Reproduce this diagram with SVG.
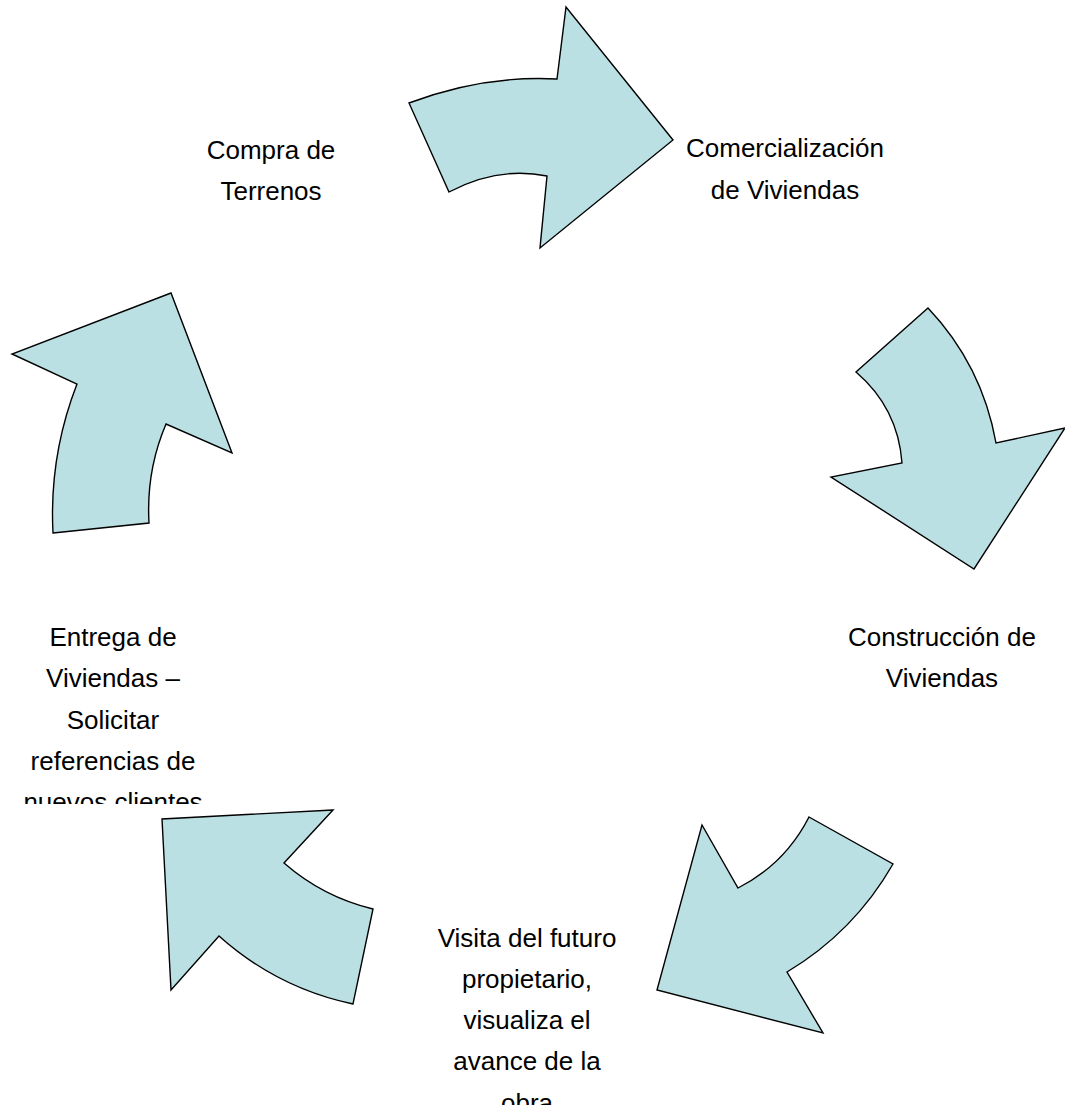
<svg xmlns="http://www.w3.org/2000/svg" width="1065" height="1112" viewBox="0 0 1065 1112">
<style>
.arrow{fill:#BBE0E3;stroke:#000;stroke-width:1.4;stroke-linejoin:miter}
.lbl{font-family:"Liberation Sans",Arial,sans-serif;font-size:26px;fill:#000;text-anchor:middle}
</style>
<defs>
<clipPath id="clipL"><rect x="0" y="600" width="260" height="204"/></clipPath>
<clipPath id="clipB"><rect x="400" y="900" width="260" height="205"/></clipPath>
</defs>
<rect width="1065" height="1112" fill="#fff"/>
<g id="connectors">
<path id="arrow1" class="arrow" d="M409,103 Q483,75 557,79 L566,7 L673,140 L540,248 L547,176 Q498,166 449,192 Z"/>
<path id="arrow2" class="arrow" d="M928,308 Q982,365 996,443 L1065,428 L974,569 L831,477 L902,463 Q898,408 856,372 Z"/>
<path id="arrow3" class="arrow" d="M809,817 L893,864 Q854,932 787,972 L823,1033 L657,990 L702,825 L738,888 Q785,864 809,817 Z"/>
<path id="arrow4" class="arrow" d="M333,810 L162,819 L171,990 L219,936 Q277,988 353,1004 L373,909 Q323,897 284,863 Z"/>
<path id="arrow5" class="arrow" d="M53,533 L149,523 Q146,471 166,424 L232,453 L171,293 L12,354 L77,384 Q49,456 53,533 Z"/>
</g>
<g id="node-compra">
<text class="lbl" x="271" y="159">Compra de</text>
<text class="lbl" x="271" y="200">Terrenos</text>
</g>
<g id="node-comercializacion">
<text class="lbl" x="785" y="157">Comercialización</text>
<text class="lbl" x="785" y="199">de Viviendas</text>
</g>
<g id="node-construccion">
<text class="lbl" x="942" y="646">Construcción de</text>
<text class="lbl" x="942" y="687">Viviendas</text>
</g>
<g id="node-visita" clip-path="url(#clipB)">
<text class="lbl" x="527" y="947">Visita del futuro</text>
<text class="lbl" x="527" y="988">propietario,</text>
<text class="lbl" x="527" y="1029">visualiza el</text>
<text class="lbl" x="527" y="1070">avance de la</text>
<text class="lbl" x="527" y="1112">obra</text>
</g>
<g id="node-entrega" clip-path="url(#clipL)">
<text class="lbl" x="113" y="646">Entrega de</text>
<text class="lbl" x="113" y="687">Viviendas –</text>
<text class="lbl" x="113" y="729">Solicitar</text>
<text class="lbl" x="113" y="770">referencias de</text>
<text class="lbl" x="113" y="811">nuevos clientes</text>
</g>
</svg>
